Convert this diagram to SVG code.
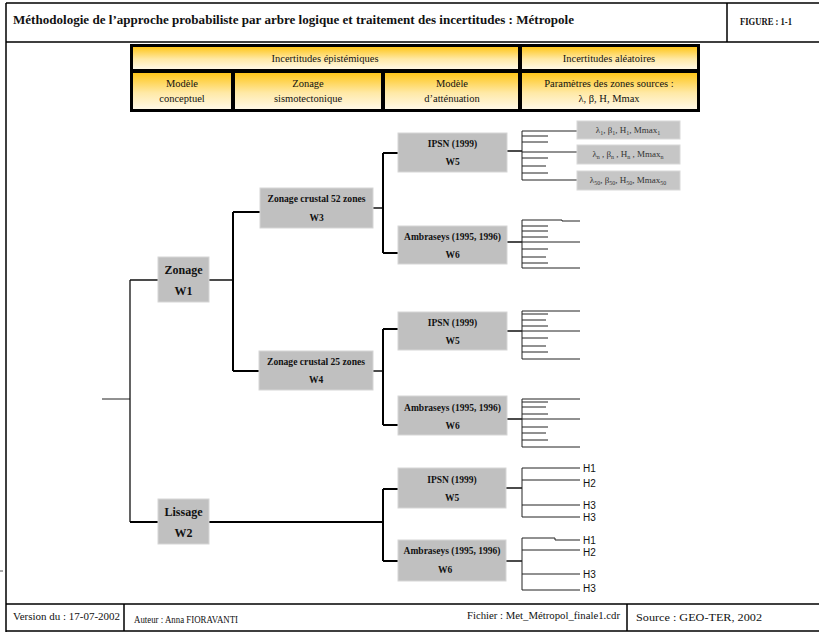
<svg xmlns="http://www.w3.org/2000/svg" width="819" height="634" viewBox="0 0 819 634">
<defs>
<linearGradient id="gold" x1="0" y1="0" x2="0" y2="1">
<stop offset="0" stop-color="#FFC61A"/>
<stop offset="0.55" stop-color="#FFE9A6"/>
<stop offset="1" stop-color="#FFF8E6"/>
</linearGradient>
<style>
.frame{stroke:#000;stroke-width:1.5;fill:none}
.cell{fill:url(#gold)}
.ht{font-family:"Liberation Serif",serif;font-size:10.5px;fill:#111;text-anchor:middle}
.ft{font-family:"Liberation Serif",serif;font-size:10.5px;fill:#111}
.node rect{fill:#c0c0c0;stroke:#d6d6d6;stroke-width:1}
.nt{font-family:"Liberation Serif",serif;font-weight:bold;font-size:9.5px;fill:#111;text-anchor:middle}
.nb{font-size:12px}
.pr{fill:#c6c6c6;stroke:#d8d8d8;stroke-width:1}
.pt{font-family:"Liberation Serif",serif;font-size:9px;fill:#333;text-anchor:middle}
.hl{font-family:"Liberation Sans",sans-serif;font-size:10px;fill:#111}
.tr{stroke:#111;fill:none;stroke-width:1.3}
.tk{stroke:#000;fill:none;stroke-width:2}
.fn{stroke:#222;fill:none;stroke-width:1}
</style>
</defs>
<rect width="819" height="634" fill="#fff"/>
<g id="frame">
<path class="frame" d="M6,3 H819 M6,42 H819 M727,3 V42 M6,3 V632 M6,604 H819 M6,631 H819 M124,604 V631 M627,604 V631"/>
<path d="M0,571 H3" stroke="#555" stroke-width="1"/>
<text x="13" y="24" font-family="Liberation Serif, serif" font-weight="bold" font-size="12" fill="#111" textLength="561" lengthAdjust="spacingAndGlyphs">Méthodologie de l’approche probabiliste par arbre logique et traitement des incertitudes : Métropole</text>
<text x="740" y="25" font-family="Liberation Serif, serif" font-weight="bold" font-size="10" fill="#111" textLength="52" lengthAdjust="spacingAndGlyphs">FIGURE :  1-1</text>
<text class="ft" x="13" y="620" textLength="107" lengthAdjust="spacingAndGlyphs">Version du : 17-07-2002</text>
<text class="ft" x="134" y="623" textLength="104" lengthAdjust="spacingAndGlyphs">Auteur : Anna FIORAVANTI</text>
<text class="ft" x="467" y="619" textLength="153" lengthAdjust="spacingAndGlyphs">Fichier : Met_Métropol_finale1.cdr</text>
<text class="ft" x="636" y="621" textLength="126" lengthAdjust="spacingAndGlyphs">Source : GEO-TER, 2002</text>
</g>
<g id="header">
<rect x="130" y="44" width="570" height="68" fill="#000"/>
<rect class="cell" x="133" y="47" width="385" height="22"/>
<rect class="cell" x="522" y="47" width="175" height="22"/>
<rect class="cell" x="133" y="73" width="98" height="36"/>
<rect class="cell" x="235" y="73" width="146" height="36"/>
<rect class="cell" x="385" y="73" width="133" height="36"/>
<rect class="cell" x="522" y="73" width="175" height="36"/>
<text class="ht" x="325" y="62">Incertitudes épistémiques</text>
<text class="ht" x="609" y="62">Incertitudes aléatoires</text>
<text class="ht" x="182" y="87">Modèle</text>
<text class="ht" x="182" y="102">conceptuel</text>
<text class="ht" x="308" y="87">Zonage</text>
<text class="ht" x="308" y="102">sismotectonique</text>
<text class="ht" x="452" y="87">Modèle</text>
<text class="ht" x="452" y="102">d’atténuation</text>
<text class="ht" x="609" y="87">Paramètres des zones sources :</text>
<text class="ht" x="609" y="102">λ, β, H, Mmax</text>
</g>
<g id="connectors">
<path class="fn" d="M102,399 H130"/>
<path class="tr" d="M130,280 V522 M130,280 H158 M209,280 H233"/>
<path class="tk" d="M233,212 V371 M233,212 H260 M233,371 H259"/>
<path class="tr" d="M373,208 H383 M373,371 H383"/>
<path class="tk" d="M383,153 V253 M383,153 H398 M383,253 H398"/>
<path class="tk" d="M383,329 V425 M383,329 H398 M383,425 H398"/>
<path class="tk" d="M130,522 H158 M209,522 H383 M383,489 V561 M383,489 H398 M383,561 H398"/>
<path class="tr" d="M507,151 H522 M507,242 H522 M507,331 H522 M507,419 H522 M506,488 H522 M506,561 H522"/>
<path class="fn" d="M522,131 V180 M522,131 H577 M522,152 H577 M522,180 H577 M522,136 H548 M522,142 H548 M522,158 H548 M522,166 H546 M522,173 H548"/>
<path class="fn" d="M522,220 V268 M522,220 H562 V221 H580 M522,242 H580 M522,268 H580 M522,226 H548 M522,231 H548 M522,237 H548 M522,249 H548 M522,257 H546 M522,263 H548"/>
<path class="fn" d="M522,311 V359 M522,311 H580 M522,331 H580 M522,359 H580 M522,314 H548 M522,320 H546 M522,326 H548 M522,338 H548 M522,346 H546 M522,352 H548"/>
<path class="fn" d="M522,399 V447 M522,399 H580 M522,419 H580 M522,447 H580 M522,402 H548 M522,407 H546 M522,414 H548 M522,427 H548 M522,433 H546 M522,440 H548"/>
<path class="fn" d="M522,468 V517 M522,468 H580 M522,480 H580 M522,505 H580 M522,517 H580"/>
<path class="fn" d="M522,538 V590 M522,538 H555 V540 H580 M522,550 H580 M522,574 H580 M522,590 H580"/>
</g>
<g id="n-w1" class="node"><rect x="158" y="257" width="51" height="45"/><text class="nt nb" x="183.5" y="274">Zonage</text><text class="nt nb" x="183.5" y="295">W1</text></g>
<g id="n-w2" class="node"><rect x="158" y="499" width="51" height="45"/><text class="nt nb" x="183.5" y="516">Lissage</text><text class="nt nb" x="183.5" y="537">W2</text></g>
<g id="n-w3" class="node"><rect x="260" y="188" width="113" height="40"/><text class="nt" x="316.5" y="202" textLength="98" lengthAdjust="spacingAndGlyphs">Zonage crustal 52 zones</text><text class="nt" x="316.5" y="221">W3</text></g>
<g id="n-w4" class="node"><rect x="259" y="351" width="114" height="39"/><text class="nt" x="316" y="365" textLength="98" lengthAdjust="spacingAndGlyphs">Zonage crustal 25 zones</text><text class="nt" x="316" y="383">W4</text></g>
<g id="n-w5a" class="node"><rect x="398" y="133" width="109" height="39"/><text class="nt" x="452.5" y="147">IPSN (1999)</text><text class="nt" x="452.5" y="165">W5</text></g>
<g id="n-w6a" class="node"><rect x="398" y="226" width="109" height="38"/><text class="nt" x="452.5" y="240">Ambraseys (1995, 1996)</text><text class="nt" x="452.5" y="258">W6</text></g>
<g id="n-w5b" class="node"><rect x="398" y="312" width="109" height="38"/><text class="nt" x="452.5" y="326">IPSN (1999)</text><text class="nt" x="452.5" y="344">W5</text></g>
<g id="n-w6b" class="node"><rect x="398" y="396" width="109" height="39"/><text class="nt" x="452.5" y="411">Ambraseys (1995, 1996)</text><text class="nt" x="452.5" y="429">W6</text></g>
<g id="n-w5c" class="node"><rect x="398" y="468" width="108" height="40"/><text class="nt" x="452" y="483">IPSN (1999)</text><text class="nt" x="452" y="501">W5</text></g>
<g id="n-w6c" class="node"><rect x="398" y="540" width="108" height="41"/><text class="nt" x="452" y="554">Ambraseys (1995, 1996)</text><text class="nt" x="445" y="573">W6</text></g>
<g id="p-1"><rect class="pr" x="577" y="121" width="103" height="18"/><text class="pt" x="628" y="133">λ<tspan font-size="6" dy="2">1</tspan><tspan dy="-2">, β</tspan><tspan font-size="6" dy="2">1</tspan><tspan dy="-2">, H</tspan><tspan font-size="6" dy="2">1</tspan><tspan dy="-2">, Mmax</tspan><tspan font-size="6" dy="2">1</tspan></text></g>
<g id="p-n"><rect class="pr" x="577" y="145" width="103" height="19"/><text class="pt" x="628" y="157">λ<tspan font-size="6" dy="2">n</tspan><tspan dy="-2"> , β</tspan><tspan font-size="6" dy="2">n</tspan><tspan dy="-2"> , H</tspan><tspan font-size="6" dy="2">n</tspan><tspan dy="-2"> , Mmax</tspan><tspan font-size="6" dy="2">n</tspan></text></g>
<g id="p-50"><rect class="pr" x="577" y="171" width="103" height="19"/><text class="pt" x="628" y="183">λ<tspan font-size="6" dy="2">50</tspan><tspan dy="-2">, β</tspan><tspan font-size="6" dy="2">50</tspan><tspan dy="-2">, H</tspan><tspan font-size="6" dy="2">50</tspan><tspan dy="-2">, Mmax</tspan><tspan font-size="6" dy="2">50</tspan></text></g>
<g id="h-labels">
<text class="hl" x="583" y="472">H1</text>
<text class="hl" x="583" y="487">H2</text>
<text class="hl" x="583" y="509">H3</text>
<text class="hl" x="583" y="521">H3</text>
<text class="hl" x="583" y="544">H1</text>
<text class="hl" x="583" y="556">H2</text>
<text class="hl" x="583" y="578">H3</text>
<text class="hl" x="583" y="592">H3</text>
</g>
</svg>
